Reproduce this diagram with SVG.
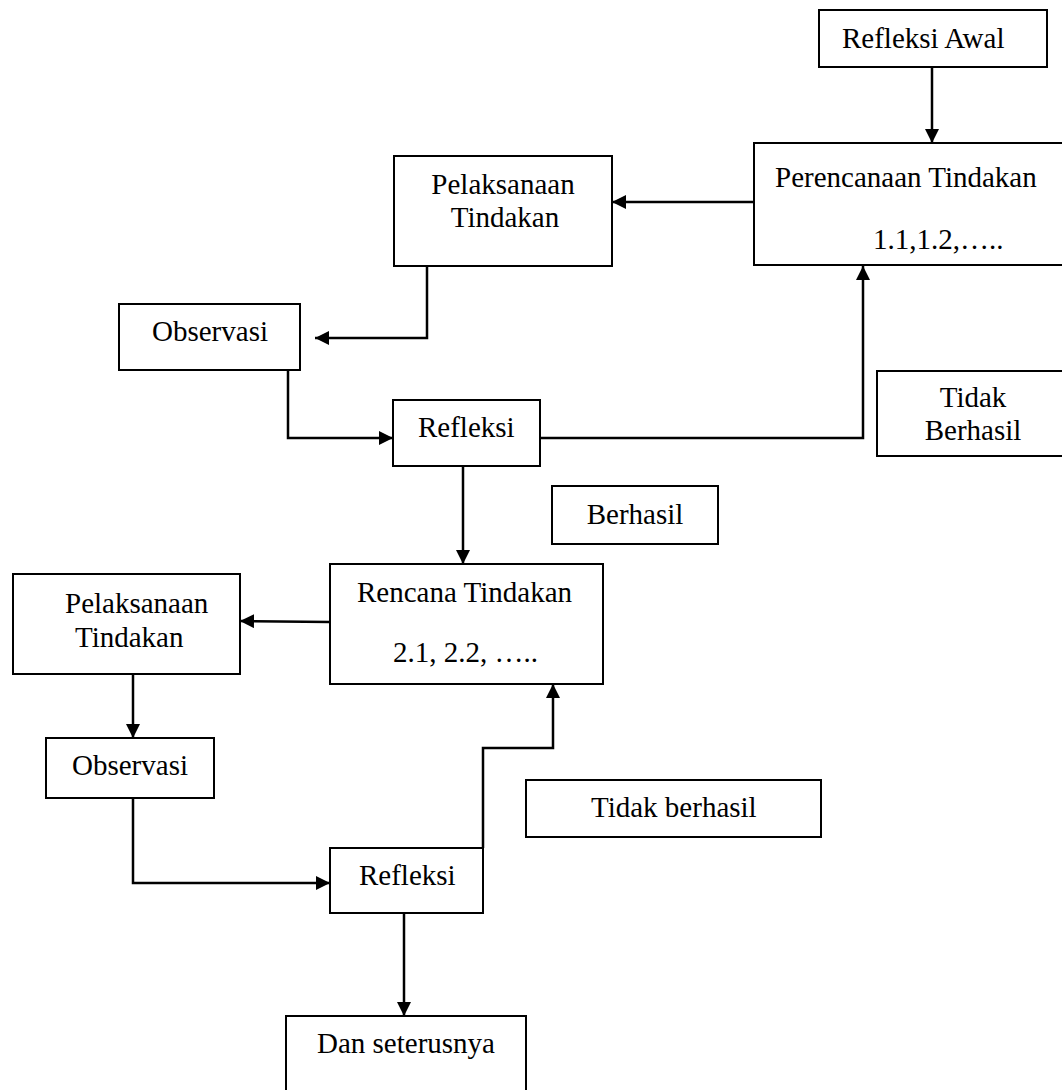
<svg xmlns="http://www.w3.org/2000/svg" width="1062" height="1090" viewBox="0 0 1062 1090">
<style>
.box{fill:#fff;stroke:#000;stroke-width:2}
.t{font-family:"Liberation Serif","Times New Roman",serif;font-size:29px;fill:#000}
.m{text-anchor:middle}
.c{fill:none;stroke:#000;stroke-width:2.5;marker-end:url(#ah)}
</style>
<defs>
<marker id="ah" markerWidth="14" markerHeight="14" refX="14" refY="7" orient="auto" markerUnits="userSpaceOnUse">
<path d="M0,0 L14,7 L0,14 z" fill="#000"/>
</marker>
</defs>
<rect width="1062" height="1090" fill="#fff"/>
<g id="connectors">
<path class="c" d="M932,67 V143"/>
<path class="c" d="M754,202 H612"/>
<path class="c" d="M427,266 V338 H315"/>
<path class="c" d="M288,370 V438 H393"/>
<path class="c" d="M540,438 H863 V266"/>
<path class="c" d="M463,466 V564"/>
<path class="c" d="M330,622 L240,621"/>
<path class="c" d="M133,674 V738"/>
<path class="c" d="M133,798 V883 H330"/>
<path class="c" d="M483,848 V748 H553 V684"/>
<path class="c" d="M404,913 V1016"/>
</g>
<g id="refleksi-awal"><rect class="box" x="819" y="10" width="228" height="57"/><text class="t" x="842" y="48">Refleksi Awal</text></g>
<g id="perencanaan"><rect class="box" x="754" y="143" width="320" height="122"/><text class="t" x="775" y="187">Perencanaan Tindakan</text><text class="t" x="873" y="249">1.1,1.2,…..</text></g>
<g id="pelaksanaan1"><rect class="box" x="394" y="156" width="218" height="110"/><text class="t m" x="503" y="194">Pelaksanaan</text><text class="t m" x="505" y="227">Tindakan</text></g>
<g id="observasi1"><rect class="box" x="119" y="304" width="181" height="66"/><text class="t" x="152" y="341">Observasi</text></g>
<g id="refleksi1"><rect class="box" x="393" y="400" width="147" height="66"/><text class="t" x="418" y="437">Refleksi</text></g>
<g id="tidak-berhasil1"><rect class="box" x="877" y="371" width="200" height="85"/><text class="t m" x="973" y="407">Tidak</text><text class="t m" x="973" y="440">Berhasil</text></g>
<g id="berhasil"><rect class="box" x="552" y="486" width="166" height="58"/><text class="t m" x="635" y="524">Berhasil</text></g>
<g id="rencana"><rect class="box" x="330" y="564" width="273" height="120"/><text class="t" x="357" y="602">Rencana Tindakan</text><text class="t" x="393" y="662">2.1, 2.2, …..</text></g>
<g id="pelaksanaan2"><rect class="box" x="13" y="574" width="227" height="100"/><text class="t" x="65" y="613">Pelaksanaan</text><text class="t" x="75" y="647">Tindakan</text></g>
<g id="observasi2"><rect class="box" x="46" y="738" width="168" height="60"/><text class="t" x="72" y="775">Observasi</text></g>
<g id="tidak-berhasil2"><rect class="box" x="526" y="780" width="295" height="57"/><text class="t" x="591" y="817">Tidak berhasil</text></g>
<g id="refleksi2"><rect class="box" x="330" y="848" width="153" height="65"/><text class="t" x="359" y="885">Refleksi</text></g>
<g id="dan-seterusnya"><rect class="box" x="286" y="1016" width="240" height="90"/><text class="t" x="317" y="1053">Dan seterusnya</text></g>
</svg>
